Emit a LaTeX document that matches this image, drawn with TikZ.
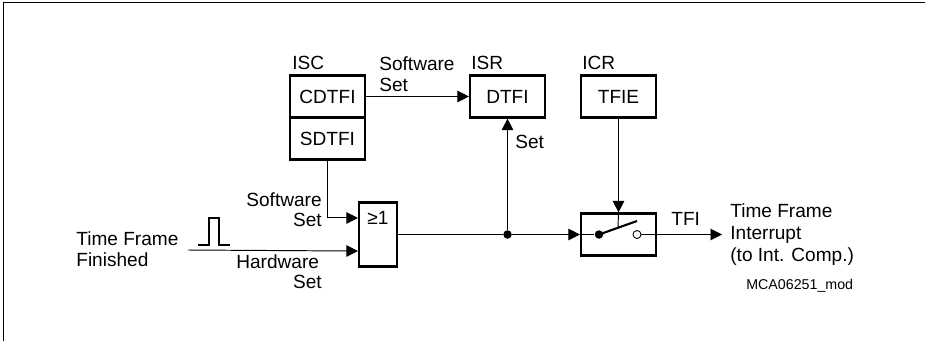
\documentclass[tikz,border=0pt]{standalone}
\usepackage{fontspec}
\setmainfont{Liberation Sans}
\usetikzlibrary{arrows.meta, positioning, calc}
\tikzset{
  block/.style={rectangle, draw=black, line width=1.25pt, inner sep=0pt,
    minimum width=1.5cm, minimum height=0.84cm, font=\fontsize{10.85}{12}\selectfont},
  gatebox/.style={rectangle, draw=black, line width=1.25pt, inner sep=0pt,
    minimum width=0.76cm, minimum height=1.28cm},
  lbl/.style={inner sep=0pt, font=\fontsize{10.85}{11.7}\selectfont},
  tinylbl/.style={inner sep=0pt, font=\fontsize{8.1}{10}\selectfont},
  arrow/.style={-{Triangle[length=2.3mm,width=2.3mm]}, line width=0.55pt, color=black},
  line/.style={line width=0.55pt, color=black},
  thickline/.style={line width=1.2pt, color=black},
  dot/.style={circle, fill=black, inner sep=0pt, minimum size=0.17cm},
  opendot/.style={circle, draw=black, fill=white, line width=0.5pt, inner sep=0pt, minimum size=0.16cm}
}
\begin{document}
\begin{tikzpicture}[x=0.02cm,y=-0.02cm]
  \useasboundingbox (0,0) rectangle (925,341);
  % Frame
  \draw[line width=0.7pt] (3.5,341) -- (3.5,2.5) -- (925,2.5);
  % Registers
  \node[block] (cdtfi) at (327.5,96.5) {CDTFI};
  \node[block] (sdtfi) at (327.5,138.5) {SDTFI};
  \node[block] (dtfi) at (507.5,96.5) {DTFI};
  \node[block] (tfie) at (618.5,96.5) {TFIE};
  \node[lbl, anchor=base west] (isc) at (292,70) {ISC};
  \node[lbl, anchor=base west] (isr) at (471,70) {ISR};
  \node[lbl, anchor=base west] (icr) at (582,70) {ICR};
  % OR gate
  \node[gatebox] (gate) at (378,234.5) {};
  \node[lbl, anchor=base west] (gatelbl) at (367,224) {≥1};
  % Switch
  \node[block] (swbox) at (618.5,234.5) {};
  \node[dot] (swdot) at (599,234.5) {};
  \node[opendot] (swopen) at (637,234.5) {};
  \coordinate (swlever) at (637,221);
  \draw[thickline] (swdot.center) -- (swlever);
  % Signals
  \coordinate (tffin) at (188,250);
  \coordinate (tfiout) at (722,234.5);
  \coordinate (swset) at ($(gate.north west)!0.25!(gate.south west)$);
  \coordinate (hwset) at ($(gate.north west)!0.75!(gate.south west)$);
  \node[dot] (junc) at (dtfi.south |- gate.east) {};
  \draw[arrow] (cdtfi.east) -- (dtfi.west);
  \draw[arrow] (sdtfi.south) |- (swset);
  \draw[arrow] (tffin) -- (hwset);
  \draw[line] (gate.east) -- (junc);
  \draw[arrow] (junc) -- (swbox.west);
  \draw[arrow] (junc) -- (dtfi.south);
  \draw[arrow] (tfie.south) -- (swbox.north);
  \draw[line] (swbox.north) -- ($(swdot.center)!0.5!(swlever)$);
  \draw[line] (swbox.west) -- (swdot);
  \draw[arrow] (swopen) -- (tfiout);
  % Pulse
  \draw[thickline] (198,245) -- (209,245) -- (209,218) -- (219,218) -- (219,245) -- (230,245);
  % Labels
  \node[lbl, anchor=north west, align=left] (tflbl) at (76,231.5) {Time Frame\\Finished};
  \node[lbl, anchor=north east, align=right] (swlbl) at (322,192) {Software\\Set};
  \node[lbl, anchor=north east, align=right] (hwlbl) at (322,254) {Hardware\kern 1.5pt\\Set};
  \node[lbl, anchor=north west, align=left] (swtop) at (379,56) {Software\\[0.5pt]Set};
  \node[lbl, anchor=base west] (setlbl) at (515,148) {Set};
  \node[lbl, anchor=base west] (tfilbl) at (671,225) {TFI};
  \node[lbl, anchor=north west, align=left] (intlbl) at (730,203.5) {Time Frame\\[0.8pt]Interrupt\\[0.8pt](to Int. Comp.)};
  \node[tinylbl, anchor=base west] (mca) at (746,289) {MCA06251\_mod};
\end{tikzpicture}
\end{document}
